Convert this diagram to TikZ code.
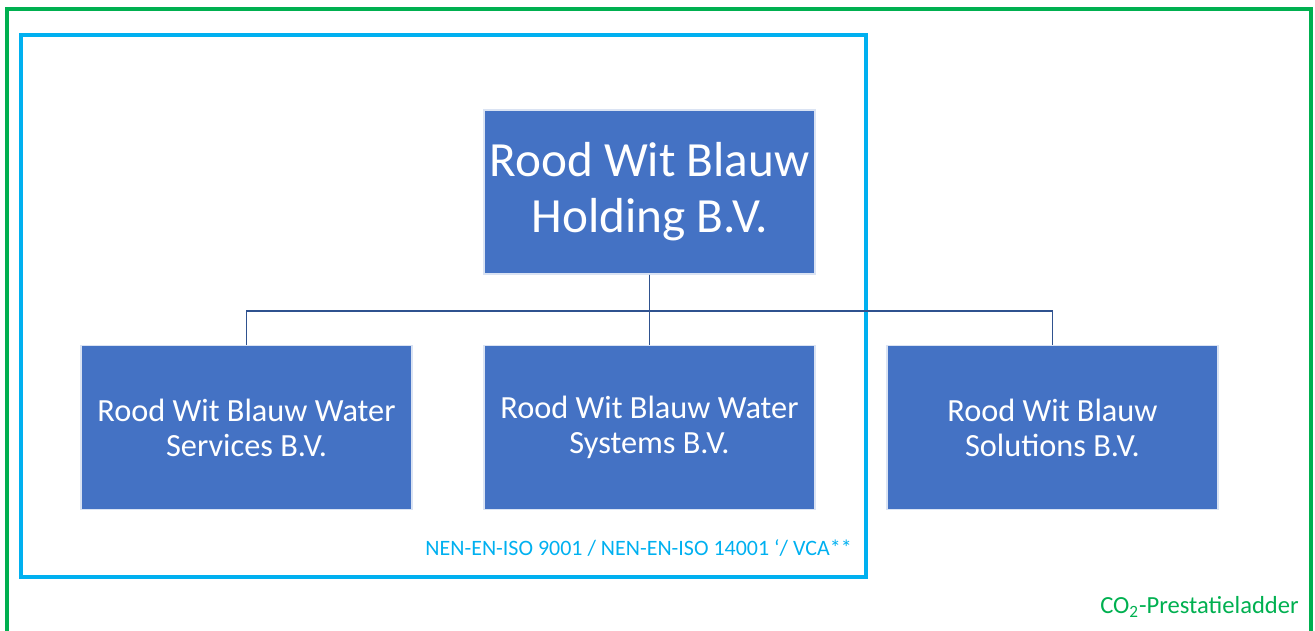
\documentclass[tikz,border=0pt]{standalone}
\usepackage{fontspec}
\setmainfont{Carlito}
\usetikzlibrary{positioning}

\definecolor{boxblue}{HTML}{4472C4}
\definecolor{linkblue}{HTML}{2F528F}
\definecolor{isoblue}{HTML}{00B0F0}
\definecolor{ladgreen}{HTML}{00B050}

\begin{document}
\begin{tikzpicture}[x=0.02cm, y=-0.02cm,
every node/.style={%anchor=center,
    inner sep=0pt, align=center
    },
company/.style={fill=boxblue, draw=white!80!boxblue, line width=0.6pt,
    text=white, minimum width=331*0.02cm, minimum height=164*0.02cm,
    font=\fontsize{18.4}{20}\selectfont},
link/.style={draw=linkblue, line width=0.9pt}
]
\useasboundingbox (0,0) rectangle (1315,630);

% frames
\draw [ladgreen, line width=2pt] (7,640) -- (7,9) -- (1311,9) -- (1311,640);
\draw [isoblue, line width=2.2pt] (21,35) rectangle (866,577);

% companies
\node (holding) [company, font=\fontsize{28}{32}\selectfont] at (649.5,192) {Rood Wit Blauw\\Holding B.V.};
\node (services) [company] at (246.5,427.5) {Rood Wit Blauw Water\\Services B.V.};
\node (systems) [company] at (649.5,427.5) {Rood Wit Blauw Water\\Systems B.V.};
\node (solutions) [company] at (1052.5,427.5) {Rood Wit Blauw\\Solutions B.V.};

\coordinate (bus) at (649.5,311);
\foreach \c in {services, systems, solutions}
    \draw [link] (holding.south) -- (bus) -| (\c.north);

% labels
\node (iso) [anchor=east, text=isoblue, font=\fontsize{12.5}{14}\selectfont] at (852,548)
    {NEN-EN-ISO 9001 / NEN-EN-ISO 14001 ‘/ VCA**};
\node (ladder) [anchor=east, text=ladgreen, font=\fontsize{14}{16}\selectfont] at (1299,607)
    {CO\textsubscript{2}-Prestatieladder};

\end{tikzpicture}
\end{document}
